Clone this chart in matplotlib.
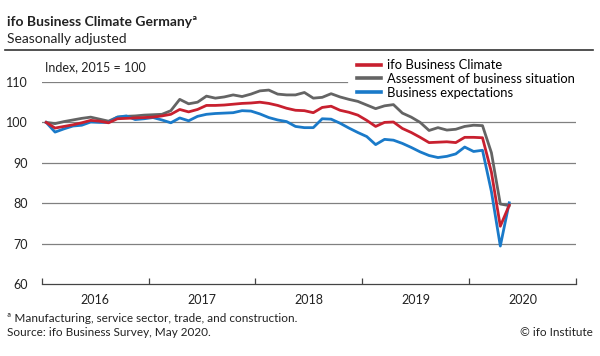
import numpy as np
import matplotlib
matplotlib.use("Agg")
import matplotlib.pyplot as plt
from matplotlib.lines import Line2D

plt.rcParams['font.family'] = ['Lato', 'DejaVu Sans']

# monthly values, Jan 2016 .. May 2020 (2015 = 100)
years = ['2016', '2017', '2018', '2019', '2020']

climate = [100.0, 98.6, 99.0, 99.4, 99.9, 100.5, 100.3, 99.9, 100.9, 101.0, 101.1, 101.2,
           101.3, 101.6, 102.0, 103.2, 102.6, 103.2, 104.2, 104.2, 104.3, 104.5, 104.7, 104.8,
           105.0, 104.7, 104.2, 103.5, 103.0, 102.9, 102.4, 103.7, 104.0, 103.0, 102.5, 101.8,
           100.5, 99.0, 100.0, 100.1, 98.5, 97.5, 96.3, 95.0, 95.1, 95.2, 95.0, 96.3,
           96.3, 96.2, 87.7, 74.3, 79.5]

situation = [100.0, 99.7, 100.2, 100.6, 101.0, 101.3, 100.8, 100.3, 101.3, 101.5, 101.6, 101.8,
             101.9, 102.0, 102.9, 105.7, 104.6, 105.0, 106.5, 106.0, 106.3, 106.8, 106.4, 107.0,
             107.8, 108.0, 107.0, 106.8, 106.8, 107.4, 106.0, 106.2, 107.1, 106.3, 105.7, 105.2,
             104.3, 103.4, 104.1, 104.4, 102.3, 101.3, 100.0, 98.0, 98.7, 98.1, 98.3, 99.0,
             99.3, 99.2, 92.5, 79.8, 79.4]

expectations = [100.0, 97.6, 98.4, 99.1, 99.3, 100.1, 100.0, 100.0, 101.3, 101.6, 100.7, 100.9,
                101.2, 100.6, 99.9, 101.1, 100.4, 101.5, 102.0, 102.2, 102.3, 102.4, 102.9, 102.8,
                102.1, 101.2, 100.6, 100.2, 99.0, 98.7, 98.7, 100.9, 100.8, 99.8, 98.6, 97.5,
                96.5, 94.5, 95.8, 95.6, 94.8, 93.8, 92.7, 91.8, 91.3, 91.6, 92.2, 93.9,
                92.8, 93.1, 82.9, 69.4, 80.1]

months = np.arange(len(climate)) + 0.5

fig = plt.figure(figsize=(6, 3.56), dpi=100)
ax = fig.add_axes([0.0695, 0.2022, 0.8905, 0.5675])

ax.plot(months, situation, color='#646464', lw=2.0, label='Assessment of business situation', zorder=3)
ax.plot(months, expectations, color='#1a7ac9', lw=2.0, label='Business expectations', zorder=4)
ax.plot(months, climate, color='#c8202f', lw=2.0, label='ifo Business Climate', zorder=5)

ax.set_xlim(0, 60)
ax.set_ylim(60, 110)
ax.set_yticks([60, 70, 80, 90, 100, 110])
ax.tick_params(axis='y', length=0, pad=10, labelsize=9, labelcolor='#222222')
for v in [70, 80, 90, 100]:
    ax.axhline(v, color='#808080', lw=0.9, zorder=1)
# top gridline stops where the legend begins
ax.axhline(110, xmax=0.571, color='#808080', lw=0.9, zorder=1)

ax.set_xticks(np.arange(0, 61, 12))
ax.set_xticklabels([])
ax.set_xticks(np.arange(6, 60, 12), minor=True)
ax.set_xticklabels(years, minor=True)
ax.tick_params(axis='x', which='major', direction='in', length=4, width=0.9, color='#444444')
ax.tick_params(axis='x', which='minor', length=0, pad=7, labelsize=9, labelcolor='#222222')

for s in ['left', 'right', 'top']:
    ax.spines[s].set_visible(False)
ax.spines['bottom'].set_color('#444444')
ax.spines['bottom'].set_linewidth(0.9)

handles, labels = ax.get_legend_handles_labels()
order = [2, 0, 1]
leg = ax.legend([handles[i] for i in order], [labels[i] for i in order],
                loc='upper right', bbox_to_anchor=(0.975, 1 - 49 / 356),
                bbox_transform=fig.transFigure, fontsize=9.4, frameon=False,
                handlelength=1.85, handletextpad=0.4, labelspacing=0.12, borderpad=0.3)
for h in leg.get_lines():
    h.set_linewidth(2.6)

fig.text(45 / 600, 1 - 67 / 356, 'Index, 2015 = 100', fontsize=9, va='center', color='#222222')

fig.text(7 / 600, 1 - 22 / 356, 'ifo Business Climate Germanyª', fontsize=10,
         fontweight='bold', va='center', color='#222222')
fig.text(7 / 600, 1 - 39 / 356, 'Seasonally adjusted', fontsize=10, va='center', color='#222222')
fig.add_artist(Line2D([5 / 600, 593 / 600], [1 - 50 / 356] * 2, transform=fig.transFigure,
                      color='#333333', lw=1.2))

fig.text(7 / 600, 1 - 318 / 356, 'ª Manufacturing, service sector, trade, and construction.',
         fontsize=8.5, va='center', color='#222222')
fig.text(7 / 600, 1 - 333 / 356, 'Source: ifo Business Survey, May 2020.',
         fontsize=8.5, va='center', color='#222222')
fig.text(593 / 600, 1 - 333 / 356, '© ifo Institute', fontsize=8.5, va='center', ha='right',
         color='#222222')

fig.savefig('out.png', dpi=100)
